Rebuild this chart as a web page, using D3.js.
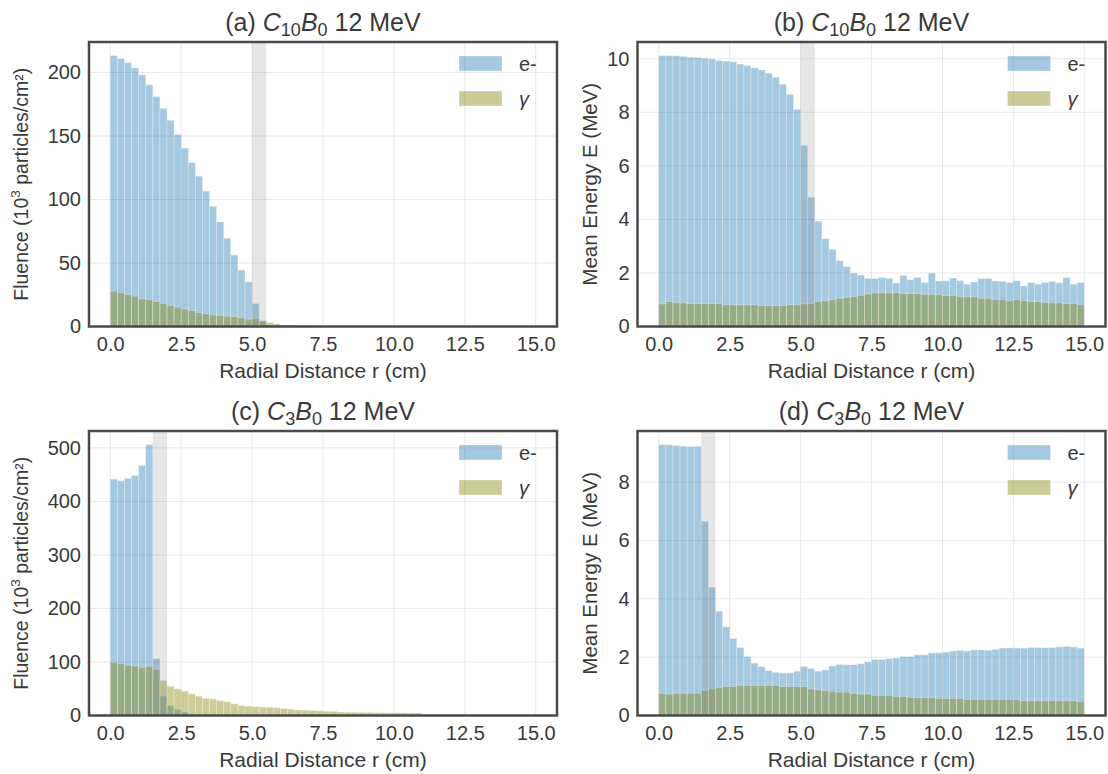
<!DOCTYPE html>
<html>
<head>
<meta charset="utf-8">
<script src="https://cdn.jsdelivr.net/npm/d3@7"></script>
<style>
  body { margin: 0; background: #fff; }
  text { font-family: "Liberation Sans", Arial, sans-serif; fill: #3a3a3a; }
</style>
</head>
<body>
<div id="chart"></div>
<script>
// bins are 0.25 cm wide, 60 of them from 0 to 15 cm
let binWidth = 0.25;
let xTicks = [0, 2.5, 5, 7.5, 10, 12.5, 15];

// (a) C10B0 fluence
let fluenceA_e = [213.4, 211.1, 207.9, 203.7, 198.2, 190.3, 181.1, 171.8, 162.4, 151.3,
  140.5, 129.2, 118.4, 106.6, 94.7, 82.4, 69.5, 56.3, 44.4, 35.2,
  18.1, 4.7, 0.6, 0.2, 0.1, 0, 0, 0, 0, 0,
  0, 0, 0, 0, 0, 0, 0, 0, 0, 0, 0, 0, 0, 0, 0, 0, 0, 0, 0, 0, 0, 0, 0, 0, 0, 0, 0, 0, 0, 0];
let fluenceA_g = [27.9, 26.8, 25.3, 23.9, 21.8, 21.1, 19.7, 18.2, 16.6, 15.2,
  13.7, 12.6, 10.8, 10.0, 9.2, 8.7, 8.2, 7.9, 7.1, 5.8,
  6.5, 4.2, 3.2, 2.1, 1.3, 1.3, 0.8, 0.8, 0.8, 0.3,
  0.2, 0.1, 0, 0, 0, 0, 0, 0, 0, 0, 0, 0, 0, 0, 0, 0, 0, 0, 0, 0, 0, 0, 0, 0, 0, 0, 0, 0, 0, 0];

// (b) C10B0 mean energy
let energyB_e = [10.12, 10.12, 10.11, 10.09, 10.06, 10.04, 10.02, 9.99, 9.94, 9.91,
  9.88, 9.80, 9.74, 9.66, 9.58, 9.46, 9.31, 9.05, 8.67, 8.11,
  6.76, 4.83, 3.93, 3.28, 2.88, 2.46, 2.24, 2.00, 1.92, 1.80,
  1.79, 1.83, 1.80, 1.63, 1.91, 1.75, 1.83, 1.64, 2.00, 1.70,
  1.71, 1.81, 1.71, 1.58, 1.66, 1.79, 1.79, 1.70, 1.69, 1.64,
  1.71, 1.51, 1.64, 1.58, 1.64, 1.68, 1.63, 1.83, 1.58, 1.64];
let energyB_g = [0.84, 0.93, 0.89, 0.89, 0.85, 0.85, 0.85, 0.85, 0.85, 0.81,
  0.81, 0.81, 0.81, 0.81, 0.78, 0.78, 0.78, 0.78, 0.81, 0.81,
  0.84, 0.85, 0.93, 0.96, 1.00, 1.05, 1.09, 1.11, 1.16, 1.21,
  1.26, 1.26, 1.26, 1.26, 1.23, 1.23, 1.23, 1.19, 1.19, 1.19,
  1.15, 1.15, 1.11, 1.11, 1.11, 1.05, 1.05, 1.01, 1.01, 0.96,
  1.00, 0.96, 0.93, 0.93, 0.89, 0.89, 0.89, 0.85, 0.85, 0.81];

// (c) C3B0 fluence
let fluenceC_e = [441.6, 438.5, 442.9, 448.5, 467.0, 506.2, 105.7, 36.1, 18.7, 11.3,
  6.3, 2.5, 1.0, 0.5, 0, 0, 0, 0, 0, 0,
  0, 0, 0, 0, 0, 0, 0, 0, 0, 0, 0, 0, 0, 0, 0, 0, 0, 0, 0, 0,
  0, 0, 0, 0, 0, 0, 0, 0, 0, 0, 0, 0, 0, 0, 0, 0, 0, 0, 0, 0];
let fluenceC_g = [99.5, 96.4, 93.9, 92.6, 90.1, 92.0, 85.8, 65.3, 54.7, 49.8,
  45.4, 40.5, 36.1, 31.8, 31.0, 28.0, 25.6, 21.8, 18.5, 17.5,
  16.5, 15.8, 15.5, 14.5, 13.0, 12.0, 10.5, 10.0, 9.5, 8.5,
  8.0, 7.8, 6.5, 6.2, 6.0, 6.0, 5.8, 5.3, 5.2, 5.0,
  5.0, 4.9, 4.8, 4.7, 0, 0, 0, 0, 0, 0, 0, 0, 0, 0, 0, 0, 0, 0, 0, 0];

// (d) C3B0 mean energy
let energyD_e = [9.29, 9.28, 9.26, 9.23, 9.22, 9.23, 6.66, 4.40, 3.58, 3.04,
  2.64, 2.33, 2.02, 1.80, 1.68, 1.54, 1.48, 1.46, 1.46, 1.52,
  1.68, 1.61, 1.52, 1.56, 1.70, 1.75, 1.74, 1.74, 1.78, 1.84,
  1.92, 1.92, 1.95, 1.97, 2.02, 2.02, 2.08, 2.08, 2.15, 2.15,
  2.17, 2.21, 2.23, 2.21, 2.25, 2.25, 2.24, 2.27, 2.31, 2.32,
  2.31, 2.31, 2.33, 2.33, 2.32, 2.33, 2.35, 2.37, 2.35, 2.31];
let energyD_g = [0.76, 0.73, 0.76, 0.76, 0.76, 0.76, 0.86, 0.91, 0.96, 0.99,
  0.99, 1.03, 1.03, 1.03, 1.03, 1.03, 1.03, 0.99, 0.99, 0.99,
  0.99, 0.91, 0.88, 0.85, 0.83, 0.80, 0.80, 0.76, 0.73, 0.73,
  0.69, 0.69, 0.69, 0.65, 0.65, 0.62, 0.62, 0.62, 0.62, 0.58,
  0.58, 0.58, 0.58, 0.55, 0.55, 0.55, 0.55, 0.55, 0.55, 0.55,
  0.55, 0.51, 0.51, 0.51, 0.51, 0.51, 0.51, 0.51, 0.51, 0.48];

// shaded region per panel (cm)
let bandAB = [5.0, 5.5];
let bandCD = [1.5, 2.0];

let yTicksA = [0, 50, 100, 150, 200];
let yTicksB = [0, 2, 4, 6, 8, 10];
let yTicksC = [0, 100, 200, 300, 400, 500];
let yTicksD = [0, 2, 4, 6, 8];

let fluenceLabel = "Fluence";
let energyLabel = "Mean Energy E (MeV)";
let xLabel = "Radial Distance r (cm)";

// set svg width and height
let svgWidth = 1108;
let svgHeight = 774;
let plotWidth = 468;
let plotHeight = 284.5;

let eColor = "#1f77b4";
let gColor = "#808000";

let svg = d3.select("#chart")
  .append("svg")
  .attr("width", svgWidth)
  .attr("height", svgHeight)
  .style("background", "#fff");

let panels = [
  {letter: "a", c: "10", e: fluenceA_e, g: fluenceA_g, band: bandAB, ticks: yTicksA, label: "fluence", left: 89, top: 42},
  {letter: "b", c: "10", e: energyB_e, g: energyB_g, band: bandAB, ticks: yTicksB, label: "energy", left: 637.5, top: 42},
  {letter: "c", c: "3", e: fluenceC_e, g: fluenceC_g, band: bandCD, ticks: yTicksC, label: "fluence", left: 89, top: 431},
  {letter: "d", c: "3", e: energyD_e, g: energyD_g, band: bandCD, ticks: yTicksD, label: "energy", left: 637.5, top: 431}
];

panels.forEach(function(p) {
  let g = svg.append("g")
    .attr("transform", `translate(${p.left}, ${p.top})`);

  let x = d3.scaleLinear().domain([-0.75, 15.75]).range([0, plotWidth]);
  let y = d3.scaleLinear().domain([0, d3.max(p.e) * 1.05]).range([plotHeight, 0]);

  // light grid underneath
  let grid = g.append("g");
  grid.selectAll("line.gx").data(xTicks).enter().append("line")
    .attr("x1", d => x(d)).attr("x2", d => x(d))
    .attr("y1", 0).attr("y2", plotHeight)
    .attr("stroke", "#f0f0f0").attr("stroke-width", 1);
  grid.selectAll("line.gy").data(p.ticks).enter().append("line")
    .attr("x1", 0).attr("x2", plotWidth)
    .attr("y1", d => y(d)).attr("y2", d => y(d))
    .attr("stroke", "#f0f0f0").attr("stroke-width", 1);

  // histogram bars
  [[p.e, eColor], [p.g, gColor]].forEach(function(s) {
    g.append("g").selectAll("rect")
      .data(s[0])
      .enter()
      .append("rect")
      .attr("x", (d, i) => x(i * binWidth))
      .attr("width", x(binWidth) - x(0))
      .attr("y", d => y(d))
      .attr("height", d => plotHeight - y(d))
      .attr("fill", s[1])
      .attr("fill-opacity", 0.4)
      .attr("stroke", "#fff")
      .attr("stroke-opacity", 0.35)
      .attr("stroke-width", 0.8);
  });

  // shaded band
  g.append("rect")
    .attr("x", x(p.band[0]))
    .attr("width", x(p.band[1]) - x(p.band[0]))
    .attr("y", 0)
    .attr("height", plotHeight)
    .attr("fill", "#808080")
    .attr("fill-opacity", 0.2);

  // faint grid over the bars
  let grid2 = g.append("g");
  grid2.selectAll("line.gy").data(p.ticks).enter().append("line")
    .attr("x1", 0).attr("x2", plotWidth)
    .attr("y1", d => y(d)).attr("y2", d => y(d))
    .attr("stroke", "#000").attr("stroke-opacity", 0.035);
  grid2.selectAll("line.gx").data(xTicks).enter().append("line")
    .attr("x1", d => x(d)).attr("x2", d => x(d))
    .attr("y1", 0).attr("y2", plotHeight)
    .attr("stroke", "#000").attr("stroke-opacity", 0.035);

  // axes
  let bottomAxis = d3.axisBottom(x).tickValues(xTicks).tickFormat(d3.format(".1f")).tickSize(0).tickPadding(10);
  let leftAxis = d3.axisLeft(y).tickValues(p.ticks).tickSize(0).tickPadding(8);

  let xa = g.append("g").attr("transform", `translate(0, ${plotHeight})`).call(bottomAxis);
  let ya = g.append("g").call(leftAxis);
  [xa, ya].forEach(function(a) {
    a.select(".domain").remove();
    a.selectAll("text").attr("font-size", 20).attr("fill", "#3a3a3a")
      .style("font-family", "'Liberation Sans', Arial, sans-serif");
  });

  // frame
  g.append("rect")
    .attr("x", 0).attr("y", 0)
    .attr("width", plotWidth).attr("height", plotHeight)
    .attr("fill", "none")
    .attr("stroke", "#4a4a4a")
    .attr("stroke-width", 2.5);

  // legend
  let legend = g.append("g").attr("transform", `translate(${plotWidth - 98}, 14)`);
  [["e-", eColor, false], ["\u03b3", gColor, true]].forEach(function(item, i) {
    legend.append("rect")
      .attr("x", 0).attr("y", i * 35)
      .attr("width", 43).attr("height", 15)
      .attr("fill", item[1]).attr("fill-opacity", 0.4)
      .attr("stroke", "#fff").attr("stroke-opacity", 0.35).attr("stroke-width", 0.8);
    legend.append("text")
      .attr("x", 60).attr("y", i * 35 + 7.5)
      .attr("dy", "0.35em")
      .attr("font-size", 20)
      .attr("font-style", item[2] ? "italic" : "normal")
      .text(item[0]);
  });

  // title
  let title = g.append("text")
    .attr("x", plotWidth / 2)
    .attr("y", -11)
    .attr("text-anchor", "middle")
    .attr("font-size", 25);
  title.append("tspan").text(`(${p.letter}) `);
  title.append("tspan").attr("font-style", "italic").text("C");
  title.append("tspan").attr("font-size", 18).attr("dy", 5).text(p.c);
  title.append("tspan").attr("font-style", "italic").attr("dy", -5).text("B");
  title.append("tspan").attr("font-size", 18).attr("dy", 5).text("0");
  title.append("tspan").attr("dy", -5).text(" 12 MeV");

  // x axis label
  g.append("text")
    .attr("x", plotWidth / 2)
    .attr("y", plotHeight + 51)
    .attr("text-anchor", "middle")
    .attr("font-size", 21)
    .text(xLabel);

  // y axis label
  let yl = g.append("text")
    .attr("text-anchor", "middle");
  if (p.label === "fluence") {
    yl.attr("transform", `translate(-61, ${plotHeight / 2}) rotate(-90)`)
      .attr("font-size", 19.5);
    yl.append("tspan").text(fluenceLabel + " (10");
    yl.append("tspan").attr("font-size", 13.5).attr("dy", -8).text("3");
    yl.append("tspan").attr("dy", 8).text(" particles/cm\u00b2)");
  } else {
    yl.attr("transform", `translate(-41, ${plotHeight / 2}) rotate(-90)`)
      .attr("font-size", 20.5)
      .text(energyLabel);
  }
});
</script>
</body>
</html>
